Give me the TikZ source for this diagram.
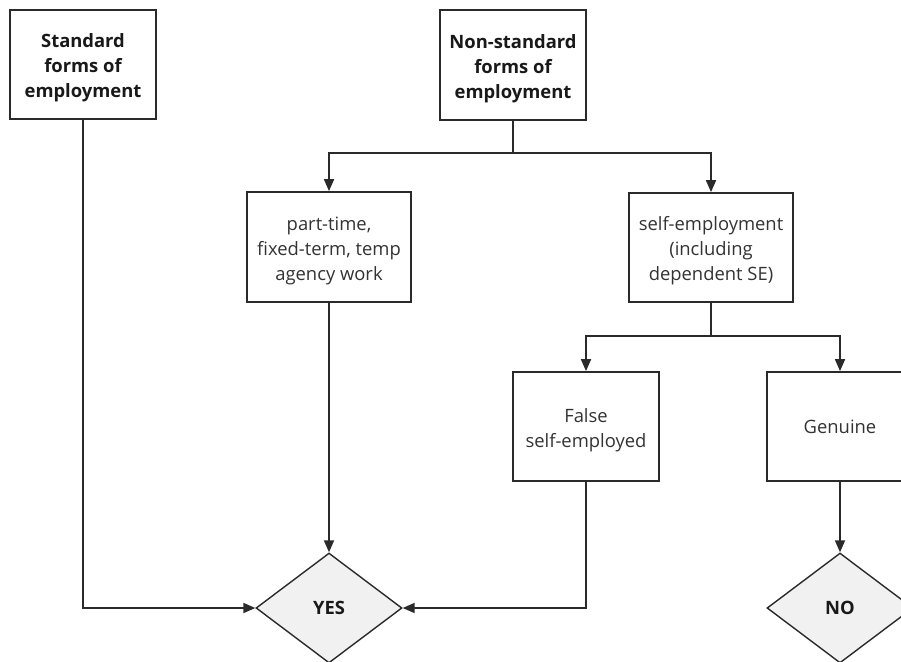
\documentclass[tikz,border=0pt]{standalone}
\usepackage{fontspec}
\setmainfont{Open Sans}
\usetikzlibrary{shapes.geometric,arrows.meta}
\definecolor{edge}{HTML}{2A2A2A}
\definecolor{txt}{HTML}{333333}
\definecolor{dfill}{HTML}{F1F1F1}
\newcommand{\topstrut}{\rule{0pt}{21pt}}
\begin{document}
\begin{tikzpicture}[x=1pt,y=-1pt,
  box/.style={draw=edge,line width=1.8pt,fill=white,inner sep=0pt,align=center,
    text=txt,font=\fontsize{18.4}{25}\selectfont},
  bbox/.style={box,text=black!90,font=\fontsize{18.4}{25}\selectfont\bfseries},
  dia/.style={diamond,draw=edge,line width=1.4pt,fill=dfill,inner sep=0pt,aspect=1.33,
    minimum width=146pt,minimum height=110pt,font=\fontsize{18.4}{25}\selectfont\bfseries,text=black!90},
  arr/.style={draw=edge,line width=1.8pt,-{Triangle[length=12pt,width=10pt]}},
  ln/.style={draw=edge,line width=1.8pt}]
\clip (0,0) rectangle (901,661);
\fill[white] (0,0) rectangle (901,661);
\node[bbox,minimum width=146pt,minimum height=109pt] (std) at (83,64.5) {\topstrut Standard\\forms of\\employment};
\node[bbox,minimum width=146pt,minimum height=110pt] (ns) at (513,65) {\topstrut Non-standard\\forms of\\employment};
\node[box,minimum width=164pt,minimum height=110pt] (pt) at (329,247) {\topstrut part-time,\\fixed-term, temp\\agency work};
\node[box,minimum width=164pt,minimum height=109pt] (se) at (711,247.5) {\topstrut self-employment\\(including\\dependent SE)};
\node[box,minimum width=146pt,minimum height=109pt] (fse) at (586,426.5) {\topstrut False\\self-employed};
\node[box,minimum width=146pt,minimum height=109pt] (gen) at (840,426.5) {Genuine};
\node[dia] (yes) at (329,608) {YES};
\node[dia] (no) at (840,608) {NO};
\coordinate (j1) at (513,153);
\coordinate (j2) at (711,336);
\draw[ln] (ns.south) -- (j1);
\draw[arr] (j1) -| (pt.north);
\draw[arr] (j1) -| (se.north);
\draw[ln] (se.south) -- (j2);
\draw[arr] (j2) -| (fse.north);
\draw[arr] (j2) -| (gen.north);
\draw[arr] (std.south) |- (yes.west);
\draw[arr] (pt.south) -- (yes.north);
\draw[arr] (fse.south) |- (yes.east);
\draw[arr] (gen.south) -- (no.north);
\end{tikzpicture}
\end{document}
